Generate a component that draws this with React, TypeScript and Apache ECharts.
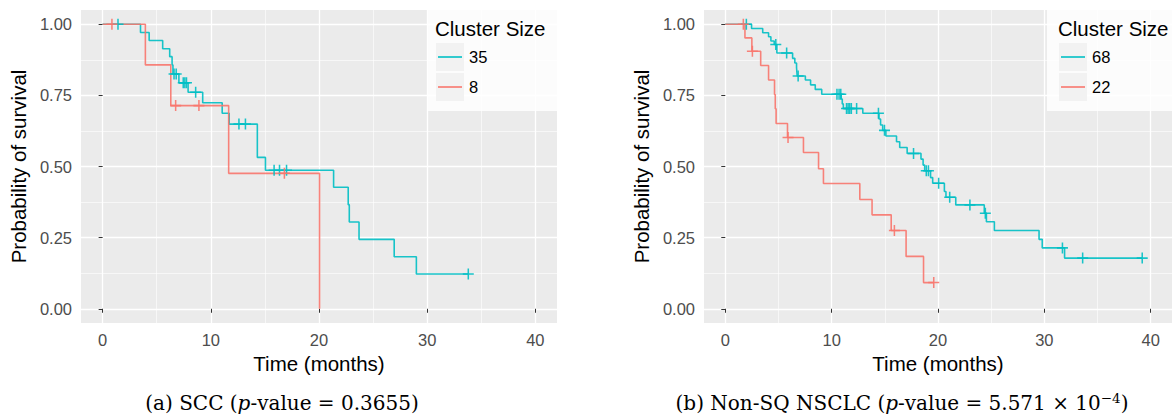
import React, { useEffect, useRef } from "react";
import * as echarts from "echarts";

const TEAL = "#00BFC4";
const RED = "#F8766D";
const SANS = "'Liberation Sans', Arial, Helvetica, sans-serif";
const SERIF = "'DejaVu Serif', 'Liberation Serif', serif";

// Panel (a) SCC — cluster size 35 (teal)
const sccTimes35 = [0, 3.5, 4.3, 5.55, 6.2, 6.42, 6.5, 7.05, 7.9, 9.25, 11.05, 11.7, 14.3, 15.05, 21.35, 22.7, 22.8, 23.7, 26.95, 29.0, 33.8];
const sccSurv35 = [1, 0.971, 0.943, 0.914, 0.886, 0.857, 0.825, 0.794, 0.761, 0.724, 0.687, 0.649, 0.532, 0.487, 0.427, 0.366, 0.305, 0.244, 0.183, 0.122, 0.122];
const sccCensor35 = [1.42, 6.6, 6.8, 7.45, 7.6, 7.75, 8.6, 12.6, 13.2, 15.85, 16.35, 17.0, 33.8];
// Panel (a) SCC — cluster size 8 (red)
const sccTimes8 = [0, 3.95, 6.3, 11.65, 20.05];
const sccSurv8 = [1, 0.857, 0.714, 0.476, 0];
const sccCensor8 = [0.86, 6.75, 8.9, 16.8];

// Panel (b) Non-SQ NSCLC — cluster size 68 (teal)
const nsTimes68 = [0, 2.47, 3.52, 4.07, 4.29, 4.6, 4.85, 6.33, 6.54, 6.7, 6.76, 7.53, 8.02, 8.46, 9.07, 10.9, 11.0, 11.1, 12.93, 14.45, 14.6, 14.8, 15.1, 16.1, 16.4, 17.1, 18.4, 18.6, 18.75, 19.3, 19.5, 20.6, 20.75, 21.67, 24.35, 24.55, 25.3, 29.5, 29.8, 31.9, 39.2];
const nsSurv68 = [1, 0.985, 0.97, 0.956, 0.941, 0.929, 0.899, 0.88, 0.864, 0.848, 0.818, 0.804, 0.787, 0.771, 0.754, 0.737, 0.72, 0.704, 0.687, 0.667, 0.646, 0.627, 0.607, 0.587, 0.567, 0.546, 0.526, 0.505, 0.485, 0.461, 0.441, 0.412, 0.392, 0.365, 0.336, 0.306, 0.275, 0.244, 0.214, 0.178, 0.178];
const nsCensor68 = [1.98, 4.75, 5.77, 6.85, 10.5, 10.7, 10.86, 11.4, 11.55, 11.7, 11.85, 12.35, 14.4, 14.97, 17.7, 18.9, 19.1, 20.06, 21.1, 23.0, 24.45, 31.7, 33.6, 39.2];
// Panel (b) Non-SQ NSCLC — cluster size 22 (red)
const nsTimes22 = [0, 1.85, 2.5, 3.33, 4.07, 4.63, 4.7, 4.78, 5.85, 7.35, 8.77, 9.23, 12.65, 13.8, 15.6, 17.0, 18.64, 19.6];
const nsSurv22 = [1, 0.952, 0.905, 0.855, 0.804, 0.753, 0.703, 0.651, 0.602, 0.549, 0.492, 0.44, 0.384, 0.33, 0.275, 0.184, 0.092, 0.092];
const nsCensor22 = [1.7, 2.55, 5.9, 15.9, 19.6];

const xTicks = [0, 10, 20, 30, 40];
const xMinor = [5, 15, 25, 35];
const yTicks = [0, 0.25, 0.5, 0.75, 1];
const yMinor = [0.125, 0.375, 0.625, 0.875];

const xTitle = "Time (months)";
const yTitle = "Probability of survival";
const legendTitle = "Cluster Size";
const legendA = ["35", "8"];
const legendB = ["68", "22"];
const captionA = "(a) SCC ({i|p}-value = 0.3655)";
const captionB = "(b) Non-SQ NSCLC ({i|p}-value = 5.571 × 10{sup|−4})";

const PLUS = "path://M0,4.3H10V5.7H0Z M4.3,0H5.7V10H4.3Z";

function stepPoints(times: number[], surv: number[]) {
  return times.map((t, i) => [t, surv[i]]);
}
function censorPoints(times: number[], surv: number[], cens: number[]) {
  return cens.map((c) => {
    let s = surv[0];
    for (let i = 0; i < times.length; i++) if (times[i] <= c) s = surv[i];
    return [c, s];
  });
}

function axesFor(grid: number) {
  const xMain = {
    gridIndex: grid,
    type: "value",
    min: -2,
    max: 42,
    position: "bottom",
    axisLine: { show: false },
    axisTick: { show: true, length: 4, lineStyle: { color: "#333333", width: 1 }, customValues: xTicks },
    axisLabel: { customValues: xTicks, color: "#4D4D4D", fontSize: 16.5, fontFamily: SANS, margin: 8 },
    splitLine: { show: true, lineStyle: { color: "#FFFFFF", width: 1.3 } },
    name: xTitle,
    nameLocation: "middle",
    nameGap: 29,
    nameTextStyle: { fontSize: 20.5, color: "#000000", fontFamily: SANS },
  };
  const xMin = {
    gridIndex: grid,
    type: "value",
    min: -2,
    max: 42,
    position: "top",
    axisLine: { show: false },
    axisTick: { show: false, customValues: xMinor },
    axisLabel: { show: false, customValues: xMinor },
    splitLine: { show: true, lineStyle: { color: "#FFFFFF", width: 0.6 } },
  };
  const yMain = {
    gridIndex: grid,
    type: "value",
    min: -0.05,
    max: 1.05,
    position: "left",
    axisLine: { show: false },
    axisTick: { show: true, length: 4, lineStyle: { color: "#333333", width: 1 }, customValues: yTicks },
    axisLabel: {
      customValues: yTicks,
      color: "#4D4D4D",
      fontSize: 16.5,
      fontFamily: SANS,
      margin: 9,
      formatter: (v: number) => v.toFixed(2),
    },
    splitLine: { show: true, lineStyle: { color: "#FFFFFF", width: 1.3 } },
    name: yTitle,
    nameLocation: "middle",
    nameGap: 52,
    nameTextStyle: { fontSize: 20.5, color: "#000000", fontFamily: SANS },
  };
  const yMin = {
    gridIndex: grid,
    type: "value",
    min: -0.05,
    max: 1.05,
    position: "right",
    axisLine: { show: false },
    axisTick: { show: false, customValues: yMinor },
    axisLabel: { show: false, customValues: yMinor },
    splitLine: { show: true, lineStyle: { color: "#FFFFFF", width: 0.6 } },
  };
  return { x: [xMain, xMin], y: [yMain, yMin] };
}

function kmSeries(name: string, color: string, xIdx: number, yIdx: number, times: number[], surv: number[], cens: number[]) {
  return [
    {
      name,
      type: "line",
      step: "end",
      xAxisIndex: xIdx,
      yAxisIndex: yIdx,
      data: stepPoints(times, surv),
      showSymbol: false,
      symbol: "none",
      lineStyle: { color, width: 1.6, opacity: 0.9 },
      itemStyle: { color },
      z: 3,
    },
    {
      name,
      type: "scatter",
      xAxisIndex: xIdx,
      yAxisIndex: yIdx,
      data: censorPoints(times, surv, cens),
      symbol: PLUS,
      symbolSize: 11,
      itemStyle: { color, opacity: 0.9 },
      z: 4,
    },
  ];
}

function legendGraphic(boxLeft: number, boxRight: number, titleX: number, keyX: number, labels: string[]) {
  const els: any[] = [
    {
      type: "rect",
      z: 100,
      shape: { x: boxLeft, y: 10, width: boxRight - boxLeft, height: 101 },
      style: { fill: "rgba(255,255,255,0.82)" },
    },
    {
      type: "text",
      z: 102,
      x: titleX,
      y: 28,
      style: { text: legendTitle, fontSize: 20.5, fontFamily: SANS, fill: "#000000", verticalAlign: "middle", align: "left" },
    },
  ];
  const colors = [TEAL, RED];
  labels.forEach((lab, i) => {
    const cy = 57 + i * 30;
    els.push({ type: "rect", z: 101, shape: { x: keyX, y: cy - 14, width: 28, height: 28 }, style: { fill: "#F2F2F2" } });
    els.push({
      type: "line",
      z: 102,
      shape: { x1: keyX + 2, y1: cy, x2: keyX + 26, y2: cy },
      style: { stroke: colors[i], lineWidth: 1.6 },
    });
    els.push({
      type: "text",
      z: 102,
      x: keyX + 33,
      y: cy,
      style: { text: lab, fontSize: 16.5, fontFamily: SANS, fill: "#000000", verticalAlign: "middle", align: "left" },
    });
  });
  return els;
}

function captionGraphic(text: string, cx: number) {
  return {
    type: "text",
    z: 100,
    x: cx,
    y: 403,
    style: {
      text,
      align: "center",
      verticalAlign: "middle",
      fontSize: 20,
      fontFamily: SERIF,
      fill: "#000000",
      rich: {
        i: { fontSize: 20, fontFamily: SERIF, fontStyle: "italic", fill: "#000000" },
        sup: { fontSize: 13.5, fontFamily: SERIF, fill: "#000000", padding: [0, 0, 11, 0] },
      },
    },
  };
}

export default function App() {
  const ref = useRef<HTMLDivElement>(null);
  useEffect(() => {
    if (!ref.current) return;
    const chart = echarts.init(ref.current, undefined, { renderer: "svg" });
    const a = axesFor(0);
    const b = axesFor(1);
    const option: any = {
      animation: false,
      backgroundColor: "#FFFFFF",
      grid: [
        { left: 81, top: 10, width: 476, height: 313, show: true, backgroundColor: "#EBEBEB", borderWidth: 0, containLabel: false },
        { left: 704, top: 10, width: 476, height: 313, show: true, backgroundColor: "#EBEBEB", borderWidth: 0, containLabel: false },
      ],
      xAxis: [...a.x, ...b.x],
      yAxis: [...a.y, ...b.y],
      series: [
        ...kmSeries("35", TEAL, 0, 0, sccTimes35, sccSurv35, sccCensor35),
        ...kmSeries("8", RED, 0, 0, sccTimes8, sccSurv8, sccCensor8),
        ...kmSeries("68", TEAL, 2, 2, nsTimes68, nsSurv68, nsCensor68),
        ...kmSeries("22", RED, 2, 2, nsTimes22, nsSurv22, nsCensor22),
      ],
      graphic: [
        ...legendGraphic(427, 557, 435, 436, legendA),
        ...legendGraphic(1047, 1172, 1058, 1059, legendB),
        captionGraphic(captionA, 282),
        captionGraphic(captionB, 902),
      ],
    };
    chart.setOption(option);
    return () => chart.dispose();
  }, []);
  return <div ref={ref} style={{ position: "fixed", left: 0, top: 0, width: 1172, height: 415 }} />;
}
